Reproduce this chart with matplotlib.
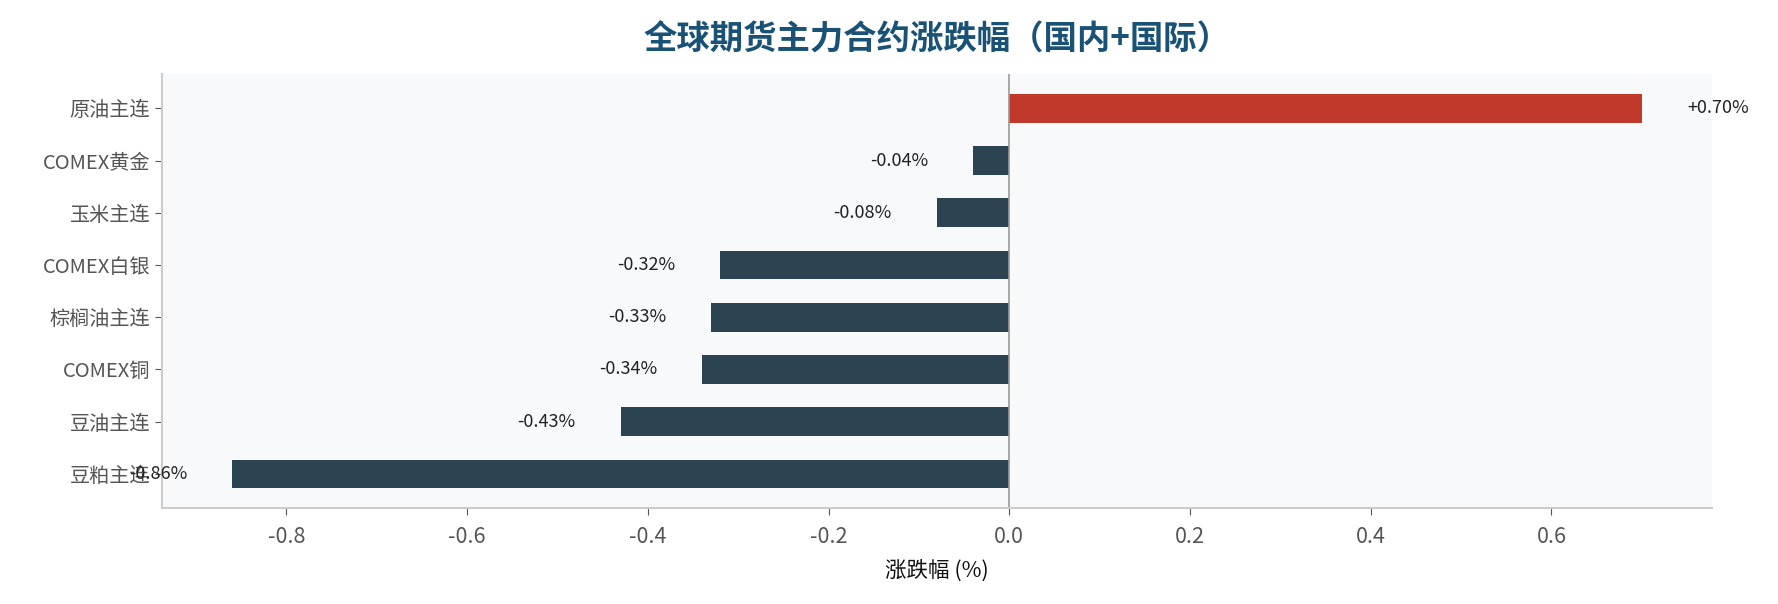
import numpy as np
import matplotlib
matplotlib.use("Agg")
import matplotlib.pyplot as plt

plt.rcParams['font.family'] = ['Noto Sans CJK SC', 'DejaVu Sans']
plt.rcParams['axes.unicode_minus'] = False

# data, bottom to top
products = ["豆粕主连", "豆油主连", "COMEX铜", "棕榈油主连", "COMEX白银", "玉米主连", "COMEX黄金", "原油主连"]
changes = [-0.86, -0.43, -0.34, -0.33, -0.32, -0.08, -0.04, 0.70]

up_color = "#c0392b"
down_color = "#2c4352"

fig = plt.figure(figsize=(17.78, 6.04), dpi=100)
ax = fig.add_axes([0.091, 0.159, 0.872, 0.718])
ax.set_facecolor("#f8f9fb")

y = np.arange(len(products))
colors = [up_color if v > 0 else down_color for v in changes]
ax.barh(y, changes, height=0.55, color=colors)
ax.axvline(0, color="#999999", lw=1.2)

for yi, v in zip(y, changes):
    if v > 0:
        ax.text(v + 0.05, yi, f"+{v:.2f}%", ha="left", va="center", fontsize=13, color="#222222")
    else:
        ax.text(v - 0.05, yi, f"{v:.2f}%", ha="right", va="center", fontsize=13, color="#222222")

ax.set_yticks(y)
ax.set_yticklabels(products)
ax.set_xticks([-0.8, -0.6, -0.4, -0.2, 0.0, 0.2, 0.4, 0.6])
ax.tick_params(axis="y", colors="#555555", labelsize=14.5, length=5)
ax.tick_params(axis="x", colors="#555555", labelsize=15.5, length=5, pad=8)

for s in ["top", "right"]:
    ax.spines[s].set_visible(False)
for s in ["left", "bottom"]:
    ax.spines[s].set_color("#cccccc")
    ax.spines[s].set_linewidth(1.5)

ax.set_xlabel("涨跌幅 (%)", fontsize=15.5, color="#111111", labelpad=9)
ax.set_title("全球期货主力合约涨跌幅（国内+国际）", fontsize=24, fontweight="bold",
             color="#1a5276", pad=18)

fig.savefig("out.png", dpi=100)
